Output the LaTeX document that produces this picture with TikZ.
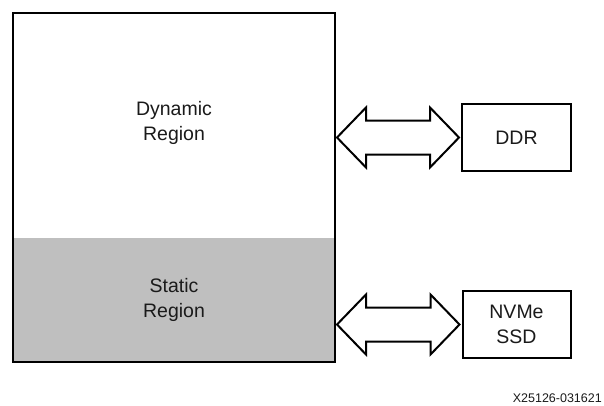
\documentclass[tikz,border=0pt]{standalone}
\usepackage{fontspec}
\setmainfont{Liberation Sans}
\usetikzlibrary{calc}
\definecolor{staticgray}{HTML}{BFBFBF}
\definecolor{ink}{HTML}{1A1A1A}
\tikzset{
  box/.style={draw=black, line width=2pt, inner sep=0pt},
  label/.style={align=center, text=ink, font=\fontsize{19.5}{25}\selectfont},
  bus/.style={draw=black, line width=2pt, fill=white, line join=miter},
}
% double-headed bus arrow between two points on one horizontal line
\newcommand\busarrow[2]{%
  \draw[bus] let \p1=#1, \p2=#2 in
    (\x1,\y1) -- (\x1+29pt,\y1+30pt) -- (\x1+29pt,\y1+17pt)
    -- (\x2-29pt,\y1+17pt) -- (\x2-29pt,\y1+30pt) -- (\x2,\y1)
    -- (\x2-29pt,\y1-30pt) -- (\x2-29pt,\y1-17pt)
    -- (\x1+29pt,\y1-17pt) -- (\x1+29pt,\y1-30pt) -- cycle;}
\begin{document}
\begin{tikzpicture}[x=1pt,y=-1pt]
\useasboundingbox (0,0) rectangle (604,405);
% static region shading, then the outer frame
\fill[staticgray] (13,238) rectangle (335,362);
\node[box, minimum width=322pt, minimum height=349pt] (fpga) at (174,187.5) {};
\node[label] (dyn) at (174,123) {Dynamic\\Region};
\node[label] (stat) at (174,299.5) {Static\\Region};
% external memories
\node[box, label, minimum width=109pt, minimum height=67pt] (ddr) at (516.5,137.5) {DDR};
\node[box, label, minimum width=108pt, minimum height=67pt] (nvme) at (516.5,324.5) {NVMe\\SSD};
% buses
\busarrow{($(fpga.east |- ddr.west)+(1,0)$)}{($(ddr.west)+(-2,0)$)}
\busarrow{($(fpga.east |- nvme.west)+(1,0)$)}{($(nvme.west)+(-2,0)$)}
% figure id
\node[anchor=base east, inner sep=0pt, text=ink, font=\fontsize{12.5}{14}\selectfont] (fig) at (602,402.5) {X25126-031621};
\end{tikzpicture}
\end{document}
